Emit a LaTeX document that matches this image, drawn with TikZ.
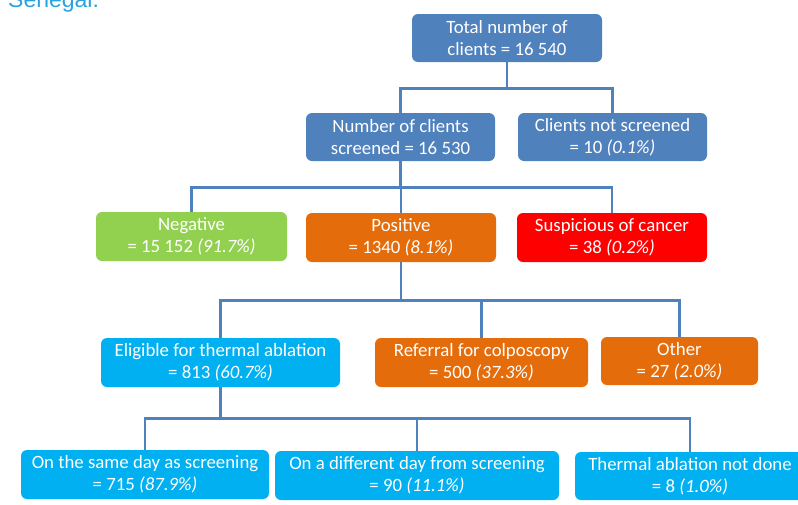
\documentclass[tikz,border=0pt]{standalone}
\usepackage{fontspec}
\setmainfont{Carlito}
\newfontfamily\arialf{Liberation Sans}
\definecolor{steel}{HTML}{4F81BD}
\definecolor{lgreen}{HTML}{92D050}
\definecolor{dorange}{HTML}{E46C0A}
\definecolor{bred}{HTML}{FF0000}
\definecolor{cyanb}{HTML}{00B0F0}
\definecolor{titleblue}{HTML}{27A2E2}
\begin{document}
\begin{tikzpicture}[x=1pt,y=-1pt,
  box/.style={rounded corners=6pt, text=white, align=center, inner sep=0pt,
    font=\fontsize{18.8}{22}\selectfont, minimum height=49pt},
  conn/.style={draw=steel, line width=2.6pt}]
\useasboundingbox (0,0) rectangle (798,504);
\node[anchor=base west, text=titleblue, font=\arialf\fontsize{23}{27}\selectfont, inner sep=0pt] (title) at (8,7) {Senegal.};

\node[box, fill=steel, minimum width=190pt, minimum height=48pt] (total) at (507,38) {Total number of\\clients = 16 540};
\node[box, fill=steel, minimum width=189pt, minimum height=48pt] (scr) at (400.5,137) {Number of clients\\screened = 16 530};
\node[box, fill=steel, minimum width=189pt, minimum height=48pt] (notscr) at (612.5,137) {Clients not screened\\= 10 \textit{(0.1\%)}};

\node[box, fill=lgreen, minimum width=191pt] (neg) at (191.5,236.5) {Negative\\= 15 152 \textit{(91.7\%)}};
\node[box, fill=dorange, minimum width=190pt] (pos) at (401,237.5) {Positive\\= 1340 \textit{(8.1\%)}};
\node[box, fill=bred, minimum width=190pt] (susp) at (612,237.5) {Suspicious of cancer\\= 38 \textit{(0.2\%)}};

\node[box, fill=cyanb, minimum width=239pt] (elig) at (220.5,362.5) {Eligible for thermal ablation\\= 813 \textit{(60.7\%)}};
\node[box, fill=dorange, minimum width=213pt] (ref) at (481.5,362.5) {Referral for colposcopy\\= 500 \textit{(37.3\%)}};
\node[box, fill=dorange, minimum width=157pt, minimum height=48pt] (other) at (679.5,361) {Other\\= 27 \textit{(2.0\%)}};

\node[box, fill=cyanb, minimum width=248pt] (same) at (145,474.5) {On the same day as screening\\= 715 \textit{(87.9\%)}};
\node[box, fill=cyanb, minimum width=284pt, minimum height=49pt] (diff) at (417,475.5) {On a different day from screening\\= 90 \textit{(11.1\%)}};
\node[box, fill=cyanb, minimum width=230pt, minimum height=48pt] (notdone) at (690,476) {Thermal ablation not done\\= 8 \textit{(1.0\%)}};

\coordinate (j1) at ([yshift=-26pt]total.south);
\coordinate (j2) at ([yshift=-26pt]scr.south);
\coordinate (j3) at ([yshift=-38pt]pos.south);
\coordinate (j4) at ([yshift=-31pt]elig.south);

\draw[conn] (total.south) -- (j1);
\draw[conn] (j1) -| (scr.north);
\draw[conn] (j1) -| (notscr.north);

\draw[conn] (scr.south) -- (j2);
\draw[conn] (j2) -| (neg.north);
\draw[conn] (j2) -| (pos.north);
\draw[conn] (j2) -| (susp.north);

\draw[conn] (pos.south) -- (j3);
\draw[conn] (j3) -| (elig.north);
\draw[conn] (j3) -| (ref.north);
\draw[conn] (j3) -| (other.north);

\draw[conn] (elig.south) -- (j4);
\draw[conn] (j4) -| (same.north);
\draw[conn] (j4) -| (diff.north);
\draw[conn] (j4) -| (notdone.north);
\end{tikzpicture}
\end{document}
